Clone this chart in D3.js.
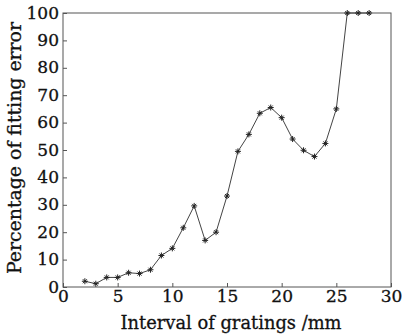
<!DOCTYPE html>
<html>
<head>
<meta charset="utf-8">
<script src="https://cdn.jsdelivr.net/npm/d3@7"></script>
<style>
  body { margin: 0; background: #fff; }
  text { font-family: "DejaVu Serif", serif; fill: #111; stroke: #111; stroke-width: 0.3px; }
</style>
</head>
<body>
<div id="chart"></div>
<script>
//data
var intervals = [2, 3, 4, 5, 6, 7, 8, 9, 10, 11, 12, 13, 14, 15, 16, 17, 18, 19, 20, 21, 22, 23, 24, 25, 26, 27, 28];
var errors = [2.1, 1.2, 3.5, 3.5, 5.2, 4.9, 6.3, 11.5, 14.1, 21.6, 29.6, 17.0, 20.0, 33.2, 49.5, 55.7, 63.4, 65.5, 61.8, 54.0, 49.9, 47.6, 52.4, 65.0, 100, 100, 100];
var xTicks = [0, 5, 10, 15, 20, 25, 30];
var yTicks = [0, 10, 20, 30, 40, 50, 60, 70, 80, 90, 100];

var svgWidth = 403;
var svgHeight = 336;

var margin = {top: 13, right: 12, bottom: 49, left: 63};
var width = svgWidth - margin.left - margin.right;
var height = svgHeight - margin.top - margin.bottom;

var svg = d3.select("#chart")
  .append("svg")
  .attr("width", svgWidth)
  .attr("height", svgHeight);

var chartGroup = svg.append("g")
  .attr("transform", `translate(${margin.left}, ${margin.top})`);

var xScale = d3.scaleLinear().domain([0, 30]).range([0, width]);
var yScale = d3.scaleLinear().domain([0, 100]).range([height, 0]);

//axes with inward ticks, matlab style
var bottomAxis = d3.axisBottom(xScale).tickValues(xTicks).tickSizeInner(-4).tickSizeOuter(0).tickPadding(4);
var leftAxis = d3.axisLeft(yScale).tickValues(yTicks).tickSizeInner(-4).tickSizeOuter(0).tickPadding(4);

var xAxisG = chartGroup.append("g")
  .attr("transform", `translate(0, ${height})`)
  .call(bottomAxis);

var yAxisG = chartGroup.append("g")
  .call(leftAxis);

[xAxisG, yAxisG].forEach(function(g) {
  g.attr("font-family", null).attr("font-size", null);
  g.select(".domain").remove();
  g.selectAll("line").attr("stroke", "#555");
  g.selectAll("text")
    .attr("font-size", "17px")
    .attr("fill", "#111");
});
xAxisG.selectAll("text").attr("dy", "0.66em");
yAxisG.selectAll("text").attr("dy", "0.3em");

//box around plot
chartGroup.append("rect")
  .attr("width", width)
  .attr("height", height)
  .attr("fill", "none")
  .attr("stroke", "#555")
  .attr("stroke-width", 1);

var points = intervals.map(function(d, i) { return {x: d, y: errors[i]}; });

var line = d3.line()
  .x(d => xScale(d.x))
  .y(d => yScale(d.y));

chartGroup.append("path")
  .datum(points)
  .attr("d", line)
  .attr("fill", "none")
  .attr("stroke", "#444")
  .attr("stroke-width", 1);

//star markers
var markers = chartGroup.selectAll(".marker")
  .data(points)
  .enter()
  .append("g")
  .attr("class", "marker")
  .attr("transform", d => `translate(${xScale(d.x)}, ${yScale(d.y)})`);

markers.append("path")
  .attr("d", "M-3,0H3M0,-3V3M-2,-2L2,2M-2,2L2,-2")
  .attr("stroke", "#222")
  .attr("stroke-width", 1);

//axis labels
chartGroup.append("text")
  .attr("transform", "rotate(-90)")
  .attr("x", 0 - (height / 2) + 2)
  .attr("y", 0 - margin.left + 21)
  .attr("text-anchor", "middle")
  .attr("font-size", "18px")
  .attr("textLength", 252)
  .attr("lengthAdjust", "spacingAndGlyphs")
  .text("Percentage of fitting error");

chartGroup.append("text")
  .attr("x", 231 - margin.left)
  .attr("y", height + 42)
  .attr("text-anchor", "middle")
  .attr("font-size", "18px")
  .attr("textLength", 221)
  .attr("lengthAdjust", "spacingAndGlyphs")
  .text("Interval of gratings /mm");
</script>
</body>
</html>
